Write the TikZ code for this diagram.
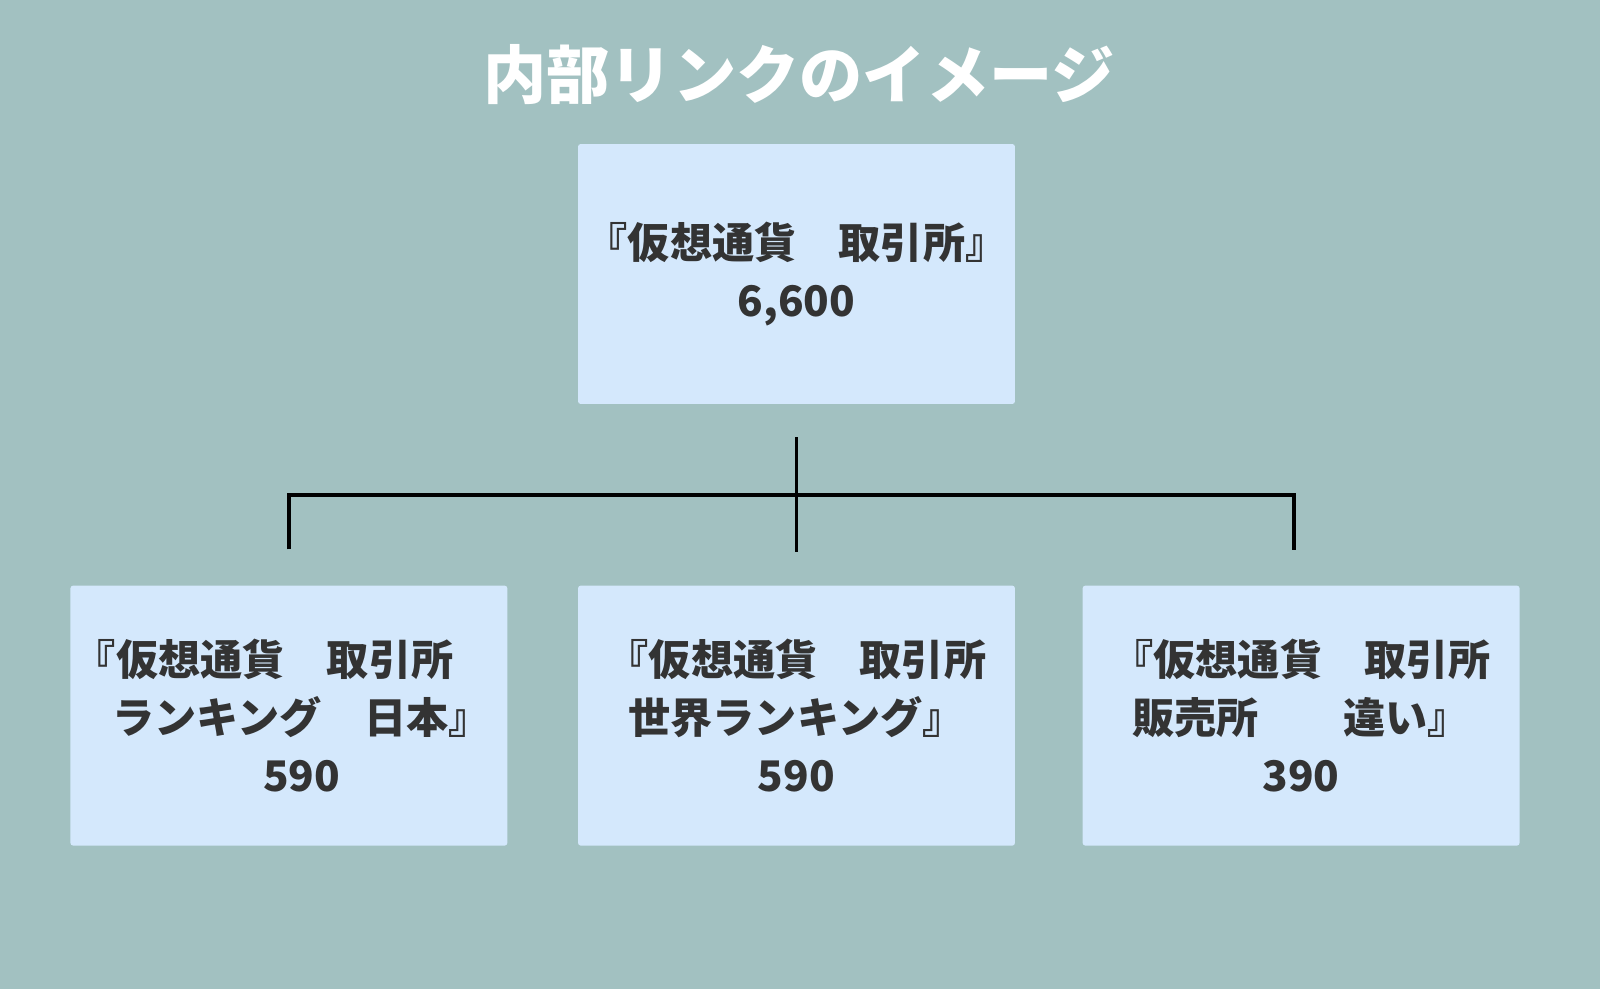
\documentclass[tikz,border=0pt]{standalone}
\usepackage{fontspec}
\setmainfont{Noto Sans CJK JP}
\usepackage{tikz}
\usetikzlibrary{positioning}
\usepackage{xcolor}
\definecolor{bgteal}{RGB}{162,193,193}
\definecolor{boxblue}{RGB}{212,232,252}
\definecolor{inkgray}{RGB}{51,51,51}

\begin{document}
\begin{tikzpicture}[
    x=0.02cm, y=-0.02cm,
    node distance=3.62cm and 1.4cm,
    box/.style={rectangle, fill=boxblue, rounded corners=1.5pt, minimum width=8.74cm,
                minimum height=5.2cm, inner xsep=0pt, align=center, text=inkgray,
                font=\bfseries\fontsize{24}{33}\selectfont},
    title/.style={text=white, font=\bfseries\fontsize{36}{40}\selectfont},
    link/.style={draw=black, line width=1.8pt},
]
\fill[bgteal] (0,0) rectangle (1600,989);
\useasboundingbox (0,0) rectangle (1600,989);

\node[title] (head) at (799,75) {内部リンクのイメージ};
\node[box] (top) at (796.5,274) {『仮想通貨　取引所』\\6,600};
\node[box, below=of top] (mid) {『仮想通貨　取引所\\世界ランキング』\hspace*{1em}\\590};
\node[box, left=of mid] (lbox) {『仮想通貨　取引所\hspace*{1.2em}\\\hspace*{0.6em}ランキング　日本』\hspace*{0.6em}\\\hspace*{0.6em}590};
\node[box, right=1.34cm of mid] (rbox) {『仮想通貨　取引所\\販売所　　違い』\hspace*{1em}\\390};

% tree connector
\coordinate (hub) at ([yshift=-1.82cm]top.south);
\draw[link] ([yshift=-0.66cm]top.south) -- ([yshift=0.66cm]mid.north);
\draw[link, line width=2.1pt] ([yshift=0.72cm]lbox.north) |- (hub) -| ([xshift=-0.14cm, yshift=0.7cm]rbox.north);
\end{tikzpicture}
\end{document}
